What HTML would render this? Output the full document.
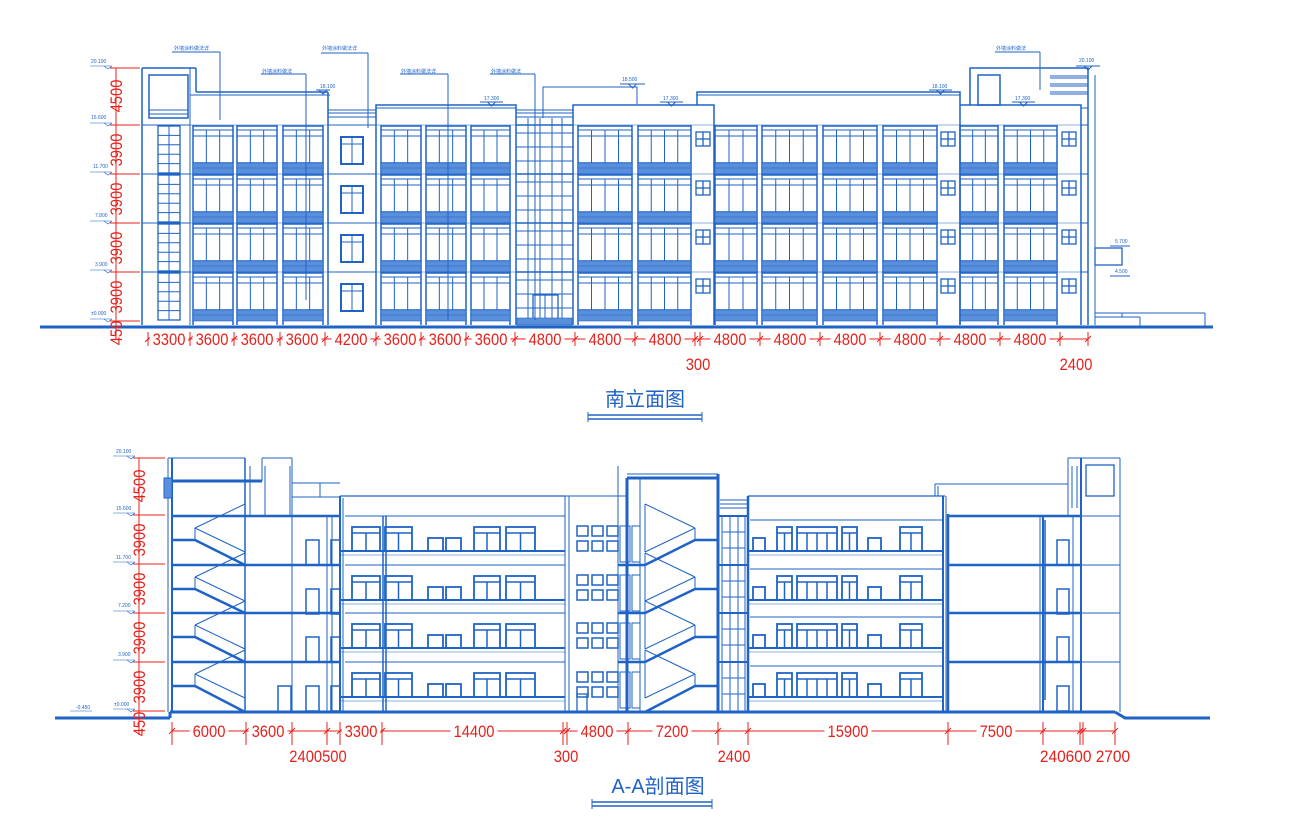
<!DOCTYPE html>
<html><head><meta charset="utf-8">
<style>
html,body{margin:0;padding:0;background:#fff;width:1306px;height:838px;overflow:hidden}
svg{display:block}
.d{font-family:"Liberation Sans Narrow","Liberation Sans",sans-serif;font-size:17px;fill:#e8201c}
.t{font-family:"Liberation Sans","Noto Sans CJK SC",sans-serif;fill:#1f63c6}
.s{font-family:"Liberation Sans","Noto Sans CJK SC",sans-serif;font-size:5px;fill:#1f63c6}
</style></head><body>
<svg id="S" width="1306" height="838" viewBox="0 0 1306 838" xmlns="http://www.w3.org/2000/svg">
<g id="G" fill="none" stroke="#1f63c6" stroke-width="1"></g>
<g id="RD" fill="none" stroke="#e8201c" stroke-width="1"></g>
<text class="s" x="91" y="63">20.100</text>
<text class="s" x="91" y="119">15.600</text>
<text class="s" x="93" y="168">11.700</text>
<text class="s" x="95" y="217">7.800</text>
<text class="s" x="95" y="266">3.900</text>
<text class="s" x="91" y="315">±0.000</text>
<text class="s" x="320" y="88">18.100</text>
<text class="s" x="484" y="100">17.300</text>
<text class="s" x="622" y="81">18.500</text>
<text class="s" x="663" y="100">17.300</text>
<text class="s" x="932" y="88">18.100</text>
<text class="s" x="1015" y="100">17.300</text>
<text class="s" x="1079" y="62">20.100</text>
<text class="s" x="1115" y="243">5.700</text>
<text class="s" x="1115" y="273">4.500</text>
<text class="s" x="174" y="50">外墙涂料做法详</text>
<text class="s" x="262" y="73">外墙涂料做法</text>
<text class="s" x="322" y="50">外墙涂料做法详</text>
<text class="s" x="401" y="73">外墙涂料做法详</text>
<text class="s" x="491" y="73">外墙涂料做法</text>
<text class="s" x="996" y="50">外墙涂料做法</text>
<text class="d v" transform="translate(122,96) rotate(-90)" text-anchor="middle">4500</text>
<text class="d v" transform="translate(122,150) rotate(-90)" text-anchor="middle">3900</text>
<text class="d v" transform="translate(122,199) rotate(-90)" text-anchor="middle">3900</text>
<text class="d v" transform="translate(122,248) rotate(-90)" text-anchor="middle">3900</text>
<text class="d v" transform="translate(122,297) rotate(-90)" text-anchor="middle">3900</text>
<text class="d v" transform="translate(122,333) rotate(-90)" text-anchor="middle">450</text>
<g text-anchor="middle">
<text class="d h" x="169" y="345">3300</text><text class="d h" x="212" y="345">3600</text><text class="d h" x="257" y="345">3600</text><text class="d h" x="302" y="345">3600</text>
<text class="d h" x="351" y="345">4200</text><text class="d h" x="400" y="345">3600</text><text class="d h" x="445" y="345">3600</text><text class="d h" x="491" y="345">3600</text>
<text class="d h" x="545" y="345">4800</text><text class="d h" x="605" y="345">4800</text><text class="d h" x="665" y="345">4800</text>
<text class="d h" x="730" y="345">4800</text><text class="d h" x="790" y="345">4800</text><text class="d h" x="850" y="345">4800</text><text class="d h" x="910" y="345">4800</text><text class="d h" x="970" y="345">4800</text><text class="d h" x="1030" y="345">4800</text>
<text class="d" x="698" y="370">300</text><text class="d" x="1076" y="370">2400</text>
</g>
<text class="t" x="645" y="406" font-size="20" text-anchor="middle">南立面图</text>
<text class="s" x="116" y="453">20.100</text>
<text class="s" x="116" y="510">15.600</text>
<text class="s" x="116" y="559">11.700</text>
<text class="s" x="118" y="607">7.200</text>
<text class="s" x="118" y="656">3.900</text>
<text class="s" x="114" y="706">±0.000</text>
<text class="s" x="76" y="709">-0.450</text>
<text class="d v" transform="translate(145,486) rotate(-90)" text-anchor="middle">4500</text>
<text class="d v" transform="translate(145,540) rotate(-90)" text-anchor="middle">3900</text>
<text class="d v" transform="translate(145,589) rotate(-90)" text-anchor="middle">3900</text>
<text class="d v" transform="translate(145,638) rotate(-90)" text-anchor="middle">3900</text>
<text class="d v" transform="translate(145,687) rotate(-90)" text-anchor="middle">3900</text>
<text class="d v" transform="translate(145,724) rotate(-90)" text-anchor="middle">450</text>
<g text-anchor="middle">
<text class="d h" x="209" y="737">6000</text><text class="d h" x="268" y="737">3600</text><text class="d h" x="361" y="737">3300</text><text class="d h" x="474" y="737">14400</text>
<text class="d h" x="597" y="737">4800</text><text class="d h" x="672" y="737">7200</text><text class="d h" x="848" y="737">15900</text><text class="d h" x="996" y="737">7500</text>
<text class="d" x="318" y="762">2400500</text><text class="d" x="566" y="762">300</text><text class="d" x="734" y="762">2400</text><text class="d" x="1085" y="762">240600 2700</text>
</g>
<text class="t" x="658" y="793" font-size="20" text-anchor="middle">A-A剖面图</text>
</svg>
<script>
var B='#1f63c6',o='',r='';
function L(a,b,c,d,w){o+='<line x1="'+a+'" y1="'+b+'" x2="'+c+'" y2="'+d+'"'+(w?' stroke-width="'+w+'"':'')+'/>';}
function R(x,y,w,h,sw,f){o+='<rect x="'+x+'" y="'+y+'" width="'+w+'" height="'+h+'"'+(sw?' stroke-width="'+sw+'"':'')+(f?' fill="'+f+'"':'')+'/>';}
function P(pts,w){o+='<polyline points="'+pts+'"'+(w?' stroke-width="'+w+'"':'')+'/>';}
function RL(a,b,c,d){r+='<line x1="'+a+'" y1="'+b+'" x2="'+c+'" y2="'+d+'"/>';}
L(40,327,1213,327,3);
var fl=[125,174,223,272];
var bays=[[193,233,3],[237,277,3],[283,323,3],[381,421,3],[426,466,3],[471,510,3],[578,632,4],[638,691,4],[715,757,3],[762,817,4],[823,877,4],[883,937,4],[960,998,3],[1004,1057,4]];
bays.forEach(function(b){var x1=b[0],x2=b[1],n=b[2];
 L(x1,fl[0],x1,325,1.5);L(x2,fl[0],x2,325,1.5);
 fl.forEach(function(f){L(x1,f+1,x2,f+1,1.5);L(x1,f+5,x2,f+5);L(x1,f+11,x2,f+11);
  for(var i=1;i<n;i++){var x=x1+(x2-x1)*i/n;L(x,f+5,x,f+38);}
  L(x1,f+38,x2,f+38,1.5);R(x1,f+38,x2-x1,11,0.6,'#5a8fdc');
  L(x1,f+43,x2,f+43,0.5);
 });});
[696,941,1062].forEach(function(x){fl.forEach(function(f){R(x,f+7,14,14,1.3);L(x+7,f+7,x+7,f+21,1.3);L(x,f+14,x+14,f+14,1.3);});});
[516,528,540,552,562,573].forEach(function(x){L(x,118,x,322);});
fl.forEach(function(f){L(516,f,573,f,1.5);L(516,f+8,573,f+8);L(516,f+22,573,f+22);L(516,f+36,573,f+36);});
R(533,295,25,27,1.3);L(545,295,545,322);R(517,318,55,7,0.6,'#5a8fdc');
L(142,325,142,68,1.5);L(142,68,196,68,1.5);L(196,68,196,92,1.5);L(196,92,328,92,1.5);L(190,95,330,95);L(328,92,328,325,1.5);L(190,68,190,325);
R(149,75,39,43,1.5);L(149,110,188,110);L(149,114,188,114);
fl.forEach(function(f){L(142,f,190,f);R(158,f+1,22,47,1.3);L(169,f+1,169,f+48);for(var k=1;k<5;k++)L(158,f+1+k*9.4,180,f+1+k*9.4);});
L(328,110,376,110);L(328,113,376,113);L(328,117,376,117);
fl.forEach(function(f){L(328,f,376,f);R(341,f+12,22,27,2);L(352,f+12,352,f+39);L(341,f+19,363,f+19);});
P('376,325 376,105 516,105 516,325',1.5);L(376,108,516,108);
L(516,110,573,110);L(516,113,573,113);L(516,117,573,117);
P('573,325 573,105 714,105 714,325',1.5);
P('543,118 543,87 637,87 637,104');
P('697,105 697,92 960,92 960,325',1.5);L(697,95,960,95);
P('960,105 1081,105 1081,325',1.5);
P('970,105 970,68 1088,68 1088,325',1.5);L(1095,75,1095,325);L(1081,108,1088,108);
R(978,75,22,30,1.5);L(1050,76,1088,76);L(1050,84,1088,84);L(1050,92,1088,92);L(1050,78,1088,78);L(1050,86,1088,86);L(1050,94,1088,94);
fl.forEach(function(f){L(1081,f,1088,f);L(960,f,1081,f,0.5);L(376,f,516,f,0.5);L(573,f,714,f,0.5);L(714,f,960,f,0.5);L(190,f,328,f,0.5)});
R(1095,248,27,17,1.3);L(1095,313,1205,313);L(1095,317,1140,317);L(1140,317,1140,327);L(1205,313,1205,327);L(1122,313,1122,317);
[[172,220,52,120],[261,306,74,300],[321,368,53,128],[400,448,74,320],[490,535,74,320],[995,1040,52,90]].forEach(function(a){L(a[0],a[2],a[1],a[2]);L(a[1],a[2],a[1],a[3]);});
[[316,330,90],[480,503,102],[620,645,84],[660,683,102],[929,952,90],[1012,1035,102],[1076,1100,66]].forEach(function(a){L(a[0],a[2],a[1],a[2]);P(((a[0]+a[1])/2-4)+','+(a[2])+' '+((a[0]+a[1])/2)+','+(a[2]+4)+' '+((a[0]+a[1])/2+4)+','+a[2]);});
L(1110,246,1130,246);L(1110,276,1130,276);
[68,125,174,223,272,321].forEach(function(y){L(90,y-2,112,y-2,0.6);P('104,'+(y-2)+' 108,'+(y+1)+' 112,'+(y-2),0.6);});
RL(116,68,116,340);[68,125,174,223,272,321].forEach(function(y){RL(110,y,140,y);});
RL(148,339,1088,339);
[148,190,234,280,325,376,421,466,515,575,635,695,700,760,820,880,940,1000,1060,1088].forEach(function(x){RL(x,332,x,346);RL(x-3,342,x+3,336);});
L(588,415,702,415,1.5);L(588,419,702,419,1.5);L(588,412,588,422);L(702,412,702,422);
L(55,718,170,718,3);L(170,712,1115,712,3);L(170,712,170,718,3);P('1115,712 1125,718 1210,718',3);
var SF=[516,565,613,662,712];
L(168,458,168,712);L(172,458,172,712,2);L(245,458,245,712,1.5);L(262,458,262,481);L(168,458,245,458);
L(172,481,262,481,3);R(164,478,8,20,1,'#5a8fdc');
function stairs(xa,xb,land,lx1,lx2,dir){for(var i=0;i<4;i++){var t=SF[i],b=SF[i+1],m=t+24;
 L(lx1,m,lx2,m,2.5);
 if(dir>0){L(xa,m,xb,b,2.5);L(xa,m-12,xb,m-36);L(xa,m-12,xb,m+12);L(xa,m-12,xa,m);L(xb,m-36,xb,m+12);}
 else{L(xa,b,xb,m,2.5);L(xb,m-12,xa,m-36);L(xb,m-12,xa,m+12);L(xb,m-12,xb,m);L(xa,m-36,xa,m+12);}
}}
stairs(195,245,0,172,195,1);
for(var i=0;i<4;i++){L(172,SF[i],340,SF[i],2.5);}
L(262,458,292,458);L(292,458,292,712);L(265,466,265,515);L(290,466,290,515);L(250,466,250,515);
L(292,483,340,483);L(320,483,320,497);L(292,497,340,497);
L(292,515,292,712);L(327,516,327,712);L(332,516,332,712);
for(var i=0;i<4;i++){var t=SF[i];R(306,t+24,13,25,1.5);R(331,t+24,9,25,1.5);}
R(278,686,13,26,1.5);
L(340,496,565,496,1.2);L(340,496,340,712,2);L(343,498,343,712);
L(383,516,383,712,1.5);L(386,516,386,712,1.5);
for(var i=0;i<4;i++){var t=SF[i];L(345,t,565,t);L(340,t+35,565,t+35,2);L(340,t+39,565,t+39,0.6);
 [[352,380],[385,412],[474,500],[506,535]].forEach(function(w){R(w[0],t+11,w[1]-w[0],24,1.8);L(w[0],t+17,w[1],t+17,1.5);var mx=(w[0]+w[1])/2;L(mx,t+17,mx,t+35,1.5);});
 [[428,443],[446,461]].forEach(function(w){R(w[0],t+22,w[1]-w[0],13,1.8);});}
L(565,496,565,712);L(569,496,569,712);L(565,496,628,496);
for(var i=0;i<4;i++){var t=SF[i];for(var c=0;c<3;c++)for(var rr=0;rr<2;rr++)R(577+c*15,t+10+rr*15,11,10,1.5);}
R(577,694,10,18,1.3);
L(618,466,618,712);L(627,478,627,712,3);L(627,478,718,478,3);L(627,474,718,474);L(640,478,640,712);L(718,474,718,712,3);
stairs(645,695,0,695,718,-1);
for(var i=0;i<4;i++){var t=SF[i],b=SF[i+1];L(618,b,645,b,2.5);R(620,t+10,10,36,1);R(632,t+10,8,36,1);}
L(720,500,748,500);L(720,504,748,504);L(720,508,748,508);
[722,730,738,745].forEach(function(x){L(x,516,x,712);});
for(var i=0;i<4;i++){var t=SF[i];L(718,t,748,t,2);L(722,t+16,745,t+16);L(722,t+32,745,t+32);}
L(748,496,945,496,1.2);L(748,496,748,712,2.5);L(943,496,943,712,2);L(946,496,946,712);
for(var i=0;i<4;i++){var t=SF[i];L(750,t+4,943,t+4);L(748,t+35,943,t+35,2);L(748,t+39,943,t+39,0.6);
 [[777,792],[797,837],[842,857],[900,922]].forEach(function(w){R(w[0],t+11,w[1]-w[0],24,1.8);L(w[0],t+17,w[1],t+17,1.5);var n=w[1]-w[0]>30?4:2;for(var k=1;k<n;k++){var x=w[0]+(w[1]-w[0])*k/n;L(x,t+17,x,t+35,1.5);}});
 [[753,765],[868,881]].forEach(function(w){R(w[0],t+22,w[1]-w[0],13,1.8);});}
L(935,484,1068,484);L(935,484,935,496);L(938,486,938,496);
L(948,514,948,712,2.5);
for(var i=0;i<4;i++){var t=SF[i];L(948,t,1082,t,2.5);L(1082,t,1120,t);R(1057,t+24,12,25,1.5);}
L(1040,516,1040,712);L(1043,516,1043,712,2);L(1045,520,1045,700,1.5);L(1073,516,1073,712);L(1081,458,1081,712,2);
L(1068,458,1120,458);L(1068,458,1068,515);L(1120,458,1120,712);L(1072,466,1072,508);L(1077,466,1077,508);
R(1086,465,28,31,1.3);
[458,515,564,613,662,711].forEach(function(y){L(113,y-2,135,y-2,0.6);P('127,'+(y-2)+' 131,'+(y+1)+' 135,'+(y-2),0.6);});
L(70,711,92,711,0.6);
RL(139,458,139,735);[458,515,564,613,662,711].forEach(function(y){RL(133,y,165,y);});
RL(172,731,1115,731);
[172,246,292,327,340,382,563,567,628,718,748,948,1043,1080,1083,1115].forEach(function(x){RL(x,722,x,745);RL(x-3,734,x+3,728);});
L(592,802,712,802,1.5);L(592,806,712,806,1.5);L(592,799,592,809);L(712,799,712,809);
document.getElementById('G').innerHTML=o;document.getElementById('RD').innerHTML=r;
// condense dimension text
var svg=document.getElementById('S');
document.querySelectorAll('text.d').forEach(function(t){
 var n=t.textContent.length;t.setAttribute('textLength',(n*8.2).toFixed(1));t.setAttribute('lengthAdjust','spacingAndGlyphs');
});
document.querySelectorAll('text.h').forEach(function(t){
 var bb=t.getBBox();var rc=document.createElementNS('http://www.w3.org/2000/svg','rect');
 rc.setAttribute('x',bb.x-3);rc.setAttribute('y',bb.y+3);rc.setAttribute('width',bb.width+6);rc.setAttribute('height',bb.height-6);rc.setAttribute('fill','#fff');
 t.parentNode.insertBefore(rc,t);
});
</script>
</body></html>
